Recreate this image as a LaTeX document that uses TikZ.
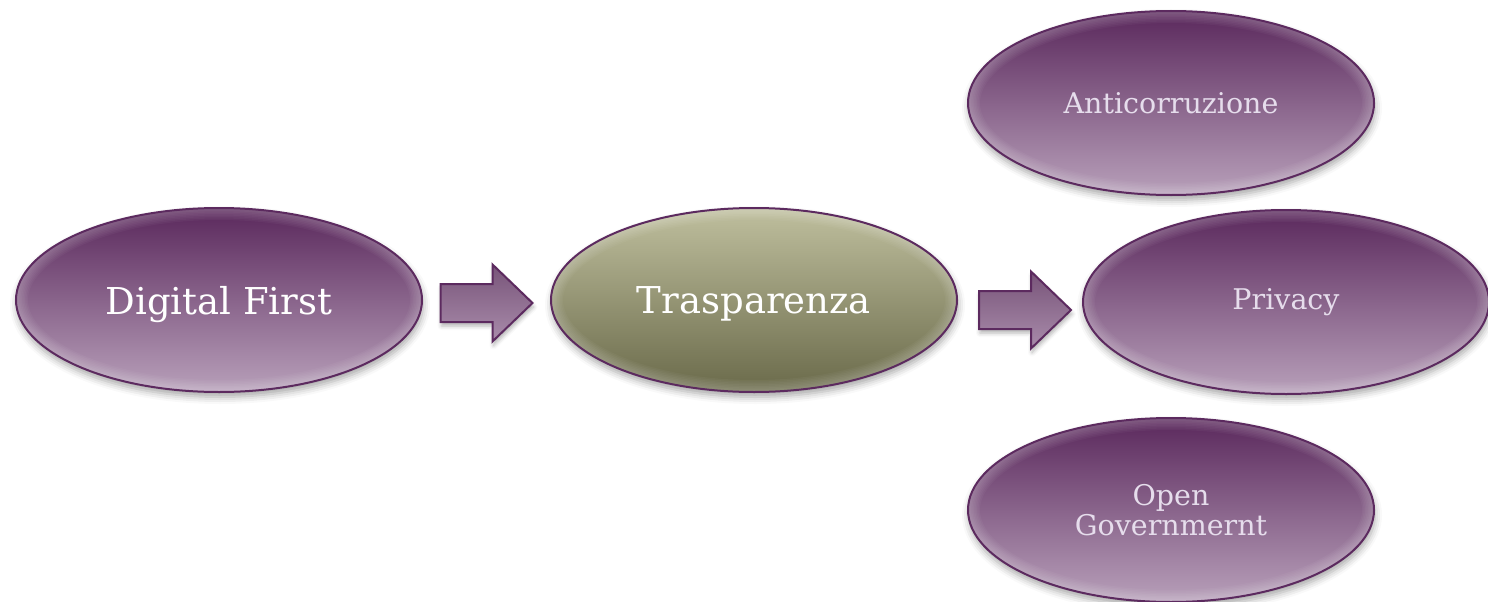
\documentclass[tikz,border=0pt]{standalone}
\usepackage{fontspec}
\setmainfont{DejaVu Serif}
\usetikzlibrary{shapes.geometric,calc,shadows.blur}

\definecolor{edgepurple}{HTML}{5C2A5F}
\definecolor{ptop}{HTML}{5A285C}
\definecolor{pmid}{HTML}{8C6A8F}
\definecolor{pbot}{HTML}{B8A0BA}
\definecolor{otop}{HTML}{BFBF9E}
\definecolor{omid}{HTML}{9A9A70}
\definecolor{obot}{HTML}{6A6A4A}
\definecolor{atop}{HTML}{785479}
\definecolor{abot}{HTML}{A98CAB}
\definecolor{lavtext}{HTML}{E6DDEC}

\tikzset{
  bubble/.style={ellipse, draw=edgepurple, line width=2pt, inner sep=0pt,
    minimum width=406pt, minimum height=184pt,
    blur shadow={shadow xshift=1pt, shadow yshift=-5pt,
      shadow blur radius=7pt, shadow opacity=35},
    path picture={
      % soft inner glow along the rim
      \foreach \w in {3,6,...,24}
        \draw[white, opacity=0.035, line width=\w pt]
          (path picture bounding box.center) ellipse [x radius=203pt, y radius=92pt];
    }},
  purplebubble/.style={bubble, top color=ptop, middle color=pmid, bottom color=pbot},
  olivebubble/.style={bubble, top color=otop, middle color=omid, bottom color=obot},
  bigtext/.style={font=\fontsize{37}{44}\selectfont, text=white, text depth=0pt},
  smalltext/.style={font=\fontsize{28.5}{30}\selectfont, text=lavtext, align=center},
  blockarrowfill/.style={draw=edgepurple, line width=2pt, line join=miter,
    top color=atop, bottom color=abot,
    blur shadow={shadow xshift=1pt, shadow yshift=-4pt,
      shadow blur radius=4pt, shadow opacity=30}},
  blockarrow/.pic={
    \path[blockarrowfill] (-46,-19) -- (6,-19) -- (6,-38.5) -- (46,0)
      -- (6,38.5) -- (6,19) -- (-46,19) -- cycle;
  }
}

\begin{document}
\begin{tikzpicture}[x=1pt, y=-1pt]
  \useasboundingbox (0,0) rectangle (1488,602);

  % main chain
  \node[purplebubble, bigtext] (dig) at (219,300) {Digital First};
  \node[olivebubble, bigtext] (tra) at (754,300) {Trasparenza};

  % outcomes
  \node[purplebubble, smalltext] (anti) at (1171,103) {Anticorruzione};
  \node[purplebubble, smalltext] (pri) at (1286,302) {Privacy};
  \node[purplebubble, smalltext] (open) at (1171,510) {Open\\Governmernt};

  % block arrows between the bubbles
  \pic at ($(dig.east)!0.5!(tra.west)+(0,3)$) {blockarrow};
  \pic at ($(tra.east)!0.5!(pri.west)+(5,9)$) {blockarrow};
\end{tikzpicture}
\end{document}
